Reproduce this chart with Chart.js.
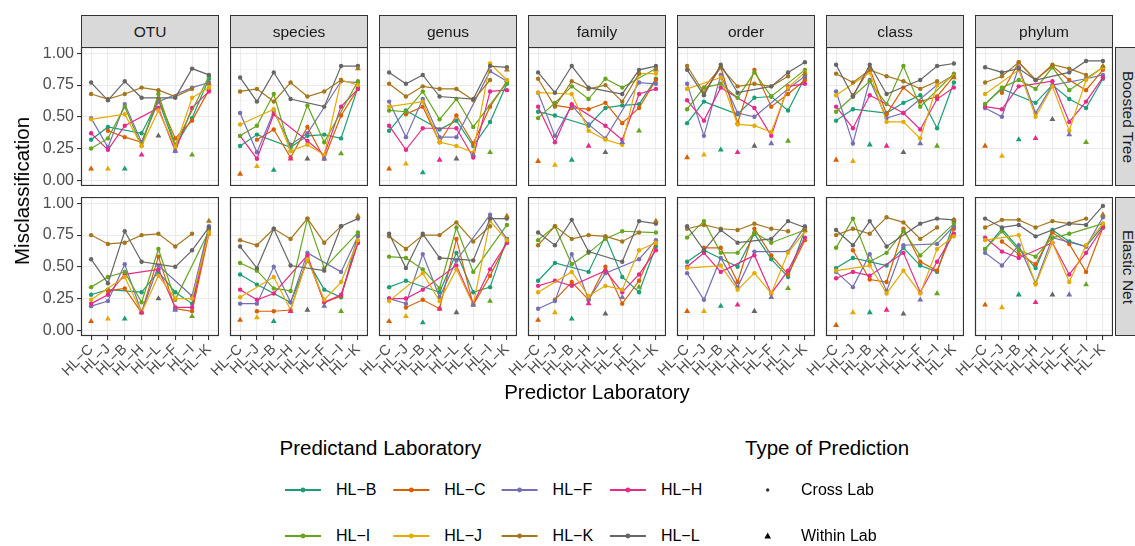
<!DOCTYPE html>
<html>
<head>
<meta charset="utf-8">
<script src="https://cdn.jsdelivr.net/npm/chart.js@4.4.1/dist/chart.umd.min.js"></script>
<style>
  html, body { margin: 0; padding: 0; background: #fff; }
  body { width: 1135px; height: 546px; position: relative; overflow: hidden;
         font-family: "Liberation Sans", Arial, sans-serif; }
  canvas { position: absolute; }
  .strip { position: absolute; box-sizing: border-box; background: #D9D9D9; border: 1px solid #333;
           color: #1A1A1A; font-size: 15.5px; display: flex; align-items: center; justify-content: center; }
  .strip.side span { transform: rotate(90deg); white-space: nowrap; }
  .title { position: absolute; white-space: nowrap; color: #000; }
  .lg { position: absolute; white-space: nowrap; color: #000; }
</style>
</head>
<body>
<div id="root"></div>
<script>
const PREDICTORS = ['HL−C', 'HL−J', 'HL−B', 'HL−H', 'HL−L', 'HL−F', 'HL−I', 'HL−K'];
const PREDICTANDS = ['HL−B', 'HL−C', 'HL−F', 'HL−H', 'HL−I', 'HL−J', 'HL−K', 'HL−L'];
const LAB_COLORS = ['#1B9E77', '#D95F02', '#7570B3', '#E7298A', '#66A61E', '#E6AB02', '#A6761D', '#666666'];
const TAXA = ['OTU', 'species', 'genus', 'family', 'order', 'class', 'phylum'];
const MODELS = ['Boosted Tree', 'Elastic Net'];
const Y_TICKS = [0, 0.125, 0.25, 0.375, 0.5, 0.625, 0.75, 0.875, 1];

// Misclassification rows = predictand lab (PREDICTANDS order), columns = predictor lab
// (PREDICTORS order). Where row and column are the same lab the value is the within-lab one.
const btOTU = [
  [0.32, 0.42, 0.09, 0.37, 0.63, 0.27, 0.49, 0.80],
  [0.09, 0.39, 0.34, 0.30, 0.64, 0.33, 0.47, 0.71],
  [0.49, 0.26, 0.60, 0.30, 0.62, 0.23, 0.73, 0.77],
  [0.37, 0.24, 0.43, 0.20, 0.57, 0.23, 0.57, 0.70],
  [0.25, 0.33, 0.58, 0.27, 0.68, 0.28, 0.20, 0.82],
  [0.48, 0.09, 0.52, 0.27, 0.55, 0.26, 0.65, 0.73],
  [0.68, 0.64, 0.68, 0.73, 0.71, 0.66, 0.72, 0.76],
  [0.77, 0.63, 0.78, 0.65, 0.35, 0.65, 0.88, 0.83]
];
const btSpecies = [
  [0.27, 0.36, 0.08, 0.26, 0.35, 0.36, 0.33, 0.73],
  [0.05, 0.32, 0.40, 0.18, 0.42, 0.17, 0.51, 0.72],
  [0.53, 0.22, 0.54, 0.28, 0.37, 0.17, 0.78, 0.77],
  [0.35, 0.17, 0.52, 0.17, 0.31, 0.20, 0.58, 0.72],
  [0.35, 0.43, 0.68, 0.23, 0.59, 0.30, 0.21, 0.78],
  [0.44, 0.11, 0.56, 0.23, 0.28, 0.20, 0.79, 0.75],
  [0.70, 0.72, 0.62, 0.77, 0.66, 0.70, 0.79, 0.88],
  [0.81, 0.62, 0.85, 0.64, 0.17, 0.58, 0.90, 0.90]
];
const btGenus = [
  [0.39, 0.55, 0.06, 0.40, 0.47, 0.27, 0.46, 0.76],
  [0.09, 0.52, 0.58, 0.30, 0.51, 0.29, 0.58, 0.78],
  [0.62, 0.34, 0.64, 0.34, 0.34, 0.20, 0.86, 0.78],
  [0.43, 0.24, 0.41, 0.16, 0.41, 0.18, 0.70, 0.71],
  [0.55, 0.54, 0.70, 0.48, 0.64, 0.42, 0.22, 0.77],
  [0.58, 0.13, 0.62, 0.30, 0.27, 0.22, 0.92, 0.79],
  [0.76, 0.66, 0.74, 0.72, 0.72, 0.63, 0.79, 0.87],
  [0.85, 0.76, 0.83, 0.66, 0.17, 0.64, 0.90, 0.89]
];
const btFamily = [
  [0.54, 0.51, 0.16, 0.43, 0.57, 0.59, 0.60, 0.80],
  [0.15, 0.59, 0.57, 0.56, 0.61, 0.45, 0.57, 0.79],
  [0.69, 0.35, 0.59, 0.44, 0.33, 0.30, 0.77, 0.76],
  [0.58, 0.30, 0.60, 0.27, 0.43, 0.32, 0.68, 0.72],
  [0.49, 0.61, 0.74, 0.64, 0.80, 0.73, 0.39, 0.88],
  [0.69, 0.12, 0.68, 0.39, 0.32, 0.28, 0.84, 0.84],
  [0.80, 0.58, 0.78, 0.72, 0.75, 0.62, 0.84, 0.87],
  [0.85, 0.69, 0.90, 0.73, 0.22, 0.68, 0.87, 0.90]
];
const btOrder = [
  [0.45, 0.62, 0.24, 0.52, 0.65, 0.66, 0.55, 0.81],
  [0.18, 0.73, 0.89, 0.45, 0.87, 0.58, 0.68, 0.79],
  [0.76, 0.35, 0.83, 0.53, 0.50, 0.29, 0.72, 0.82],
  [0.63, 0.47, 0.73, 0.22, 0.57, 0.35, 0.74, 0.76],
  [0.56, 0.73, 0.76, 0.65, 0.85, 0.66, 0.31, 0.87],
  [0.72, 0.20, 0.81, 0.44, 0.43, 0.38, 0.73, 0.85],
  [0.90, 0.69, 0.89, 0.74, 0.76, 0.74, 0.82, 0.84],
  [0.87, 0.67, 0.91, 0.69, 0.27, 0.74, 0.85, 0.93]
];
const btClass = [
  [0.47, 0.56, 0.28, 0.53, 0.61, 0.67, 0.41, 0.77],
  [0.16, 0.67, 0.88, 0.52, 0.73, 0.62, 0.66, 0.82],
  [0.70, 0.29, 0.79, 0.49, 0.53, 0.29, 0.75, 0.83],
  [0.58, 0.41, 0.67, 0.27, 0.53, 0.40, 0.64, 0.73],
  [0.54, 0.66, 0.78, 0.60, 0.90, 0.58, 0.27, 0.84],
  [0.67, 0.15, 0.85, 0.46, 0.46, 0.33, 0.75, 0.82],
  [0.84, 0.77, 0.87, 0.82, 0.78, 0.72, 0.78, 0.81],
  [0.91, 0.66, 0.91, 0.68, 0.22, 0.79, 0.90, 0.92]
];
const btPhylum = [
  [0.60, 0.72, 0.32, 0.61, 0.75, 0.64, 0.57, 0.80],
  [0.27, 0.69, 0.93, 0.79, 0.90, 0.79, 0.71, 0.87],
  [0.57, 0.50, 0.89, 0.53, 0.75, 0.36, 0.80, 0.83],
  [0.58, 0.56, 0.74, 0.33, 0.78, 0.46, 0.62, 0.81],
  [0.60, 0.73, 0.79, 0.72, 0.89, 0.71, 0.30, 0.89],
  [0.68, 0.19, 0.87, 0.50, 0.74, 0.39, 0.79, 0.89],
  [0.77, 0.82, 0.93, 0.79, 0.91, 0.88, 0.83, 0.90],
  [0.89, 0.85, 0.88, 0.79, 0.48, 0.85, 0.94, 0.94]
];
const enOTU = [
  [0.28, 0.32, 0.09, 0.30, 0.46, 0.30, 0.21, 0.80],
  [0.07, 0.31, 0.33, 0.14, 0.58, 0.17, 0.15, 0.76],
  [0.19, 0.23, 0.52, 0.14, 0.51, 0.16, 0.27, 0.82],
  [0.21, 0.28, 0.44, 0.14, 0.48, 0.18, 0.18, 0.80],
  [0.34, 0.42, 0.46, 0.22, 0.64, 0.24, 0.11, 0.78],
  [0.24, 0.09, 0.42, 0.14, 0.43, 0.25, 0.25, 0.77],
  [0.75, 0.68, 0.69, 0.75, 0.76, 0.66, 0.76, 0.86],
  [0.56, 0.37, 0.78, 0.54, 0.25, 0.50, 0.63, 0.81]
];
const enSpecies = [
  [0.44, 0.36, 0.07, 0.22, 0.55, 0.32, 0.26, 0.75],
  [0.08, 0.15, 0.15, 0.16, 0.57, 0.22, 0.27, 0.69],
  [0.21, 0.21, 0.50, 0.22, 0.61, 0.19, 0.46, 0.74],
  [0.32, 0.24, 0.29, 0.15, 0.59, 0.22, 0.28, 0.69],
  [0.53, 0.47, 0.33, 0.31, 0.88, 0.49, 0.15, 0.77],
  [0.26, 0.10, 0.42, 0.16, 0.56, 0.24, 0.38, 0.71],
  [0.71, 0.67, 0.80, 0.72, 0.88, 0.69, 0.82, 0.90],
  [0.66, 0.49, 0.80, 0.51, 0.16, 0.47, 0.82, 0.88]
];
const enGenus = [
  [0.34, 0.39, 0.06, 0.30, 0.61, 0.30, 0.34, 0.72],
  [0.07, 0.18, 0.24, 0.17, 0.72, 0.20, 0.43, 0.69],
  [0.25, 0.21, 0.60, 0.26, 0.55, 0.20, 0.91, 0.72],
  [0.25, 0.25, 0.32, 0.17, 0.51, 0.21, 0.48, 0.69],
  [0.58, 0.57, 0.48, 0.33, 0.81, 0.46, 0.23, 0.83],
  [0.23, 0.11, 0.45, 0.23, 0.48, 0.20, 0.86, 0.71],
  [0.74, 0.64, 0.75, 0.75, 0.85, 0.70, 0.82, 0.90],
  [0.76, 0.49, 0.76, 0.57, 0.14, 0.55, 0.88, 0.88]
];
const enFamily = [
  [0.39, 0.53, 0.09, 0.46, 0.74, 0.42, 0.30, 0.66],
  [0.08, 0.24, 0.38, 0.24, 0.50, 0.21, 0.39, 0.69],
  [0.17, 0.23, 0.60, 0.24, 0.45, 0.26, 0.56, 0.71],
  [0.35, 0.39, 0.35, 0.21, 0.47, 0.30, 0.44, 0.63],
  [0.71, 0.82, 0.52, 0.61, 0.72, 0.78, 0.34, 0.77],
  [0.30, 0.14, 0.46, 0.27, 0.35, 0.32, 0.63, 0.69],
  [0.67, 0.82, 0.72, 0.75, 0.74, 0.70, 0.77, 0.86],
  [0.77, 0.67, 0.87, 0.62, 0.13, 0.54, 0.86, 0.84]
];
const enOrder = [
  [0.54, 0.63, 0.19, 0.50, 0.76, 0.56, 0.42, 0.79],
  [0.15, 0.65, 0.65, 0.38, 0.80, 0.59, 0.44, 0.71],
  [0.45, 0.24, 0.57, 0.34, 0.62, 0.26, 0.62, 0.82],
  [0.50, 0.61, 0.46, 0.20, 0.59, 0.29, 0.47, 0.73],
  [0.73, 0.86, 0.61, 0.61, 0.77, 0.69, 0.33, 0.79],
  [0.49, 0.15, 0.51, 0.32, 0.45, 0.29, 0.61, 0.78],
  [0.80, 0.83, 0.80, 0.79, 0.84, 0.80, 0.78, 0.79],
  [0.82, 0.63, 0.79, 0.69, 0.15, 0.72, 0.86, 0.81]
];
const enClass = [
  [0.49, 0.57, 0.14, 0.51, 0.65, 0.51, 0.46, 0.85],
  [0.04, 0.63, 0.40, 0.38, 0.80, 0.54, 0.47, 0.80],
  [0.46, 0.34, 0.60, 0.31, 0.67, 0.24, 0.68, 0.82],
  [0.41, 0.46, 0.43, 0.16, 0.61, 0.30, 0.54, 0.76],
  [0.65, 0.88, 0.54, 0.61, 0.78, 0.59, 0.29, 0.84],
  [0.47, 0.14, 0.51, 0.29, 0.47, 0.29, 0.64, 0.74],
  [0.75, 0.80, 0.76, 0.89, 0.85, 0.72, 0.81, 0.87],
  [0.79, 0.67, 0.86, 0.66, 0.13, 0.84, 0.88, 0.87]
];
const enPhylum = [
  [0.64, 0.80, 0.28, 0.49, 0.79, 0.70, 0.66, 0.82],
  [0.20, 0.70, 0.60, 0.52, 0.77, 0.68, 0.46, 0.81],
  [0.61, 0.51, 0.67, 0.37, 0.73, 0.28, 0.66, 0.89],
  [0.73, 0.62, 0.57, 0.22, 0.69, 0.44, 0.61, 0.81],
  [0.64, 0.78, 0.63, 0.58, 0.73, 0.76, 0.36, 0.84],
  [0.71, 0.18, 0.75, 0.36, 0.69, 0.38, 0.67, 0.84],
  [0.81, 0.87, 0.87, 0.81, 0.86, 0.84, 0.88, 0.91],
  [0.88, 0.81, 0.83, 0.74, 0.28, 0.84, 0.83, 0.98]
];

const TABLES = [
  [btOTU, btSpecies, btGenus, btFamily, btOrder, btClass, btPhylum],
  [enOTU, enSpecies, enGenus, enFamily, enOrder, enClass, enPhylum]
];

// facet geometry
const PANEL_W = 138, PANEL_H = 139;
const COL_X = TAXA.map((_, c) => 81 + 149 * c);
const ROW_Y = [47, 197];
const Y_AXIS_W = 52, X_AXIS_H = 50;
const LABEL_OVERHANG = 36; // room for the first rotated x label left of a panel
const FONT = '"Liberation Sans", Arial, sans-serif';

const root = document.getElementById('root');
const ownIndex = PREDICTANDS.map(lab => PREDICTORS.indexOf(lab));
const isMajor = v => Math.abs(v * 4 - Math.round(v * 4)) < 1e-6;

const panelFrame = {
  id: 'panelFrame',
  afterDraw(chart) {
    const { ctx, chartArea: a } = chart;
    ctx.save();
    ctx.strokeStyle = '#333333';
    ctx.lineWidth = 1.2;
    ctx.strokeRect(a.left + 0.5, a.top + 0.5, a.right - a.left - 1, a.bottom - a.top - 1);
    ctx.restore();
  }
};

function makePanel(r, c) {
  const table = TABLES[r][c];
  const leftCol = c === 0, bottomRow = r === 1;
  const padL = leftCol ? Y_AXIS_W : 0;
  const extraL = bottomRow && !leftCol ? LABEL_OVERHANG : 0;
  const padB = bottomRow ? X_AXIS_H : 0;

  const canvas = document.createElement('canvas');
  canvas.width = PANEL_W + padL + extraL;
  canvas.height = PANEL_H + padB;
  canvas.style.left = (COL_X[c] - padL - extraL) + 'px';
  canvas.style.top = ROW_Y[r] + 'px';
  root.appendChild(canvas);

  // cross-lab lines, one per predictand; own lab is left out so the line spans it
  const lines = PREDICTANDS.map((lab, p) => ({
    type: 'line',
    data: table[p].map((v, i) => ({ x: i, y: v })).filter(d => d.x !== ownIndex[p]),
    borderColor: LAB_COLORS[p],
    backgroundColor: LAB_COLORS[p],
    borderWidth: 1.2,
    pointRadius: 2.2,
    pointBorderWidth: 0,
    pointBackgroundColor: LAB_COLORS[p],
    tension: 0
  }));
  const within = {
    type: 'scatter',
    data: PREDICTANDS.map((lab, p) => ({ x: ownIndex[p], y: table[p][ownIndex[p]] })),
    pointStyle: 'triangle',
    pointRadius: 3.4,
    pointBorderWidth: 0,
    pointBackgroundColor: LAB_COLORS,
    showLine: false
  };

  new Chart(canvas, {
    type: 'line',
    data: { datasets: [within, ...lines.reverse()] },
    options: {
      responsive: false,
      animation: false,
      events: [],
      layout: { padding: { left: extraL, right: 0, top: 0, bottom: 0 }, autoPadding: false },
      plugins: { legend: { display: false }, tooltip: { enabled: false } },
      scales: {
        x: {
          type: 'linear', min: -0.6, max: 7.6,
          afterBuildTicks: s => { s.ticks = PREDICTORS.map((_, i) => ({ value: i })); },
          afterFit: s => { s.height = padB; s.paddingLeft = 0; s.paddingRight = 0; },
          border: { display: false },
          grid: { color: '#EBEBEB', lineWidth: 1.1, drawTicks: bottomRow, tickLength: 4, tickColor: '#333333', tickWidth: 1.1 },
          ticks: {
            display: bottomRow, autoSkip: false, minRotation: 45, maxRotation: 45, padding: 1,
            color: '#4D4D4D', font: { family: FONT, size: 14.5 },
            callback: v => PREDICTORS[v]
          }
        },
        y: {
          type: 'linear', min: -0.045, max: 1.05,
          afterBuildTicks: s => { s.ticks = Y_TICKS.map(v => ({ value: v })); },
          afterFit: s => { s.width = padL; s.paddingTop = 0; s.paddingBottom = 0; },
          border: { display: false },
          grid: {
            color: '#EBEBEB',
            lineWidth: ctx => isMajor(ctx.tick.value) ? 1.1 : 0.55,
            drawTicks: leftCol, tickLength: 4, tickWidth: 1.1,
            tickColor: ctx => isMajor(ctx.tick.value) ? '#333333' : 'rgba(0,0,0,0)'
          },
          ticks: {
            display: leftCol, padding: 3,
            color: '#4D4D4D', font: { family: FONT, size: 16 },
            callback: v => isMajor(v) ? v.toFixed(2) : ''
          }
        }
      }
    },
    plugins: [panelFrame]
  });
}

MODELS.forEach((_, r) => TAXA.forEach((_, c) => makePanel(r, c)));

// facet strips
TAXA.forEach((t, c) => {
  const d = document.createElement('div');
  d.className = 'strip';
  Object.assign(d.style, { left: COL_X[c] + 'px', top: '15px', width: PANEL_W + 'px', height: '33px' });
  d.textContent = t;
  root.appendChild(d);
});
MODELS.forEach((m, r) => {
  const d = document.createElement('div');
  d.className = 'strip side';
  Object.assign(d.style, { left: '1115px', top: ROW_Y[r] + 'px', width: '26px', height: PANEL_H + 'px' });
  d.innerHTML = '<span>' + m + '</span>';
  root.appendChild(d);
});

// axis titles
function addTitle(text, x, y, size, rot) {
  const d = document.createElement('div');
  d.className = 'title';
  d.textContent = text;
  Object.assign(d.style, {
    left: x + 'px', top: y + 'px', fontSize: size + 'px',
    transform: 'translate(-50%, -50%)' + (rot ? ' rotate(' + rot + 'deg)' : '')
  });
  root.appendChild(d);
}
addTitle('Misclassification', 22, 191, 20.5, -90);
addTitle('Predictor Laboratory', 597, 392, 20.5, 0);

// legends
function addText(text, x, y, size) {
  const d = document.createElement('div');
  d.className = 'lg';
  d.textContent = text;
  Object.assign(d.style, { left: x + 'px', top: y + 'px', fontSize: size + 'px', transform: 'translateY(-50%)' });
  root.appendChild(d);
}
addText('Predictand Laboratory', 279.5, 447.5, 20.5);
addText('Type of Prediction', 745, 447.5, 20.5);

let svg = '<svg width="1135" height="546" style="position:absolute;left:0;top:0">';
PREDICTANDS.forEach((lab, p) => {
  const x = 285 + 108.3 * (p % 4);
  const y = p < 4 ? 490 : 536;
  svg += `<line x1="${x}" y1="${y}" x2="${x + 36}" y2="${y}" stroke="${LAB_COLORS[p]}" stroke-width="1.8"/>`;
  svg += `<circle cx="${x + 18}" cy="${y}" r="2.4" fill="${LAB_COLORS[p]}"/>`;
  addText(lab, x + 51, y, 16);
});
svg += '<circle cx="767.7" cy="490" r="1.7" fill="#333"/>';
svg += '<path d="M767.7,532.6 L771,538.4 L764.4,538.4 Z" fill="#000"/>';
svg += '</svg>';
root.insertAdjacentHTML('beforeend', svg);
addText('Cross Lab', 801, 490, 16);
addText('Within Lab', 801, 536, 16);
</script>
</body>
</html>
